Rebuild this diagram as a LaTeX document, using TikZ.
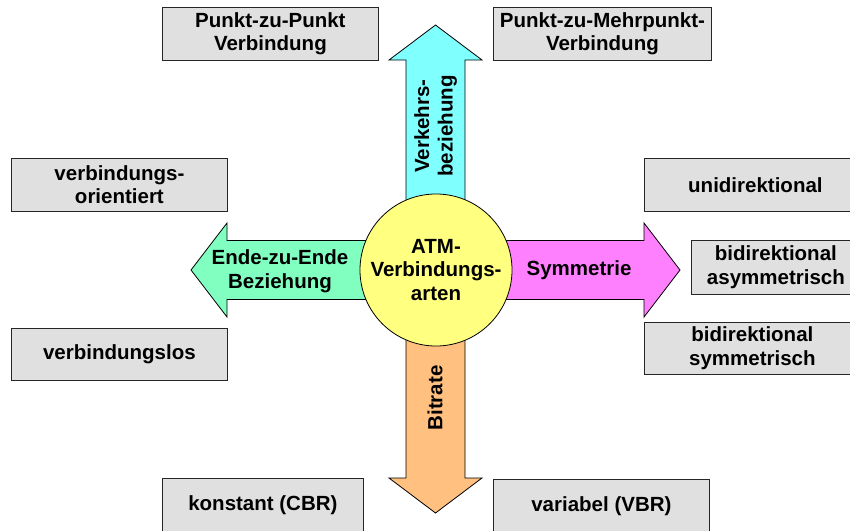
\documentclass[tikz,border=0pt]{standalone}
\usepackage{fontspec}
\setmainfont{Liberation Sans}
\usetikzlibrary{shadows}

\definecolor{boxgray}{RGB}{224,224,224}
\definecolor{arrcyan}{RGB}{128,255,255}
\definecolor{arrmint}{RGB}{128,255,192}
\definecolor{arrpink}{RGB}{255,128,255}
\definecolor{arrorange}{RGB}{255,192,128}
\definecolor{hubyellow}{RGB}{255,255,128}

\tikzset{
  labeltext/.style={font=\fontsize{20.5}{23.5}\selectfont\bfseries, align=center, text=black},
  infobox/.style={labeltext, draw=black!85, fill=boxgray, line width=0.8pt,
    minimum height=53pt, inner sep=0pt, anchor=north west,
    drop shadow={shadow xshift=1pt, shadow yshift=-1pt, opacity=1, fill=black!65}},
  arrowbody/.style={draw=black, line width=0.8pt, line join=miter},
  hub/.style={labeltext, circle, draw=black, line width=0.8pt, fill=hubyellow,
    minimum size=152pt, inner sep=0pt}
}

\begin{document}
\begin{tikzpicture}[x=1pt, y=-1pt]
\useasboundingbox (0,0) rectangle (850,530);

% centre of the hub
\coordinate (c) at (436,270);

% four block arrows leaving the hub
\draw[arrowbody, fill=arrcyan]
  (406,270) -- (406,60) -- (389,60) -- (435.5,25) -- (482,60) -- (465,60) -- (465,270) -- cycle;
\draw[arrowbody, fill=arrorange]
  (406,270) -- (406,478) -- (389,478) -- (435.5,513) -- (482,478) -- (465,478) -- (465,270) -- cycle;
\draw[arrowbody, fill=arrmint]
  (436,240.5) -- (227,240.5) -- (227,223) -- (191,270) -- (227,317) -- (227,299.5) -- (436,299.5) -- cycle;
\draw[arrowbody, fill=arrpink]
  (436,240.5) -- (644,240.5) -- (644,223) -- (680,270) -- (644,317) -- (644,299.5) -- (436,299.5) -- cycle;

% arrow captions
\node[labeltext, rotate=90] (verkehr) at (435.5,126) {Verkehrs-\\beziehung};
\node[labeltext, rotate=90] (bitrate) at (435,398) {Bitrate};
\node[labeltext] (ende) at (280,271) {Ende-zu-Ende\\Beziehung};
\node[labeltext] (symm) at (579,270) {Symmetrie};

% hub
\node[hub] (atm) at (c) {ATM-\\Verbindungs-\\arten};

% property boxes
\node[infobox, minimum width=216pt] (pp)    at (162,7)   {Punkt-zu-Punkt\\Verbindung};
\node[infobox, minimum width=218pt] (pm)    at (493,7)   {Punkt-zu-Mehrpunkt-\\Verbindung};
\node[infobox, minimum width=216pt] (vo)    at (11,158)  {verbindungs-\\orientiert};
\node[infobox, minimum width=216pt, minimum height=52pt] (vl) at (11,328) {verbindungslos};
\node[infobox, minimum width=222pt] (uni)   at (644,158) {unidirektional};
\node[infobox, minimum width=169pt, minimum height=54pt] (basym) at (691,240) {bidirektional\\asymmetrisch};
\node[infobox, minimum width=216pt, minimum height=52pt] (bsym)  at (644,322) {bidirektional\\symmetrisch};
\node[infobox, minimum width=201pt] (cbr)   at (162,478) {konstant (CBR)};
\node[infobox, minimum width=216pt] (vbr)   at (493,479) {variabel (VBR)};
\end{tikzpicture}
\end{document}
